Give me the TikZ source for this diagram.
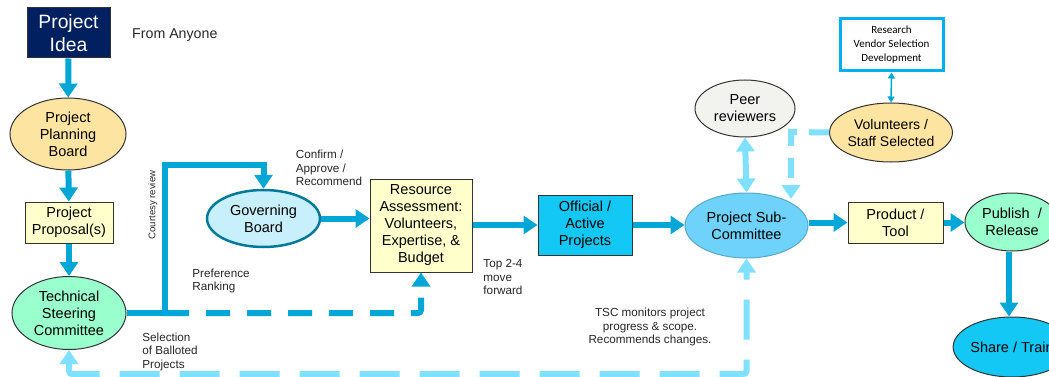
\documentclass[tikz,border=0pt]{standalone}
\usepackage{fontspec}
\setmainfont{Liberation Sans}
\newfontfamily\smallfont{Carlito}
\usetikzlibrary{shapes.geometric,arrows.meta,calc}
\definecolor{flowblue}{RGB}{0,166,214}
\definecolor{lightflow}{RGB}{128,224,255}
\definecolor{navy}{RGB}{0,32,96}
\definecolor{paleyellow}{RGB}{255,255,204}
\definecolor{paleorange}{RGB}{253,228,160}
\definecolor{mint}{RGB}{153,255,204}
\definecolor{govfill}{RGB}{200,240,252}
\definecolor{govborder}{RGB}{0,122,153}
\definecolor{brightcyan}{RGB}{20,200,245}
\definecolor{subfill}{RGB}{110,210,250}
\definecolor{peerfill}{RGB}{242,242,238}
\definecolor{resborder}{RGB}{0,176,240}
\tikzset{
  box/.style={draw=black!80,line width=1pt,align=center,inner sep=0pt,font=\fontsize{14.5}{17}\selectfont},
  oval/.style={ellipse,draw=black!80,line width=1pt,align=center,inner sep=0pt,font=\fontsize{14.5}{17}\selectfont},
  flow/.style={draw=flowblue,line width=6pt,-{Triangle[width=18pt,length=14pt]}},
  flowline/.style={draw=flowblue,line width=6pt},
  flowdash/.style={draw=flowblue,line width=6pt,dash pattern=on 24pt off 17pt,-{Triangle[width=18pt,length=14pt]}},
  lightdash/.style={draw=lightflow,line width=6pt,dash pattern=on 40pt off 20pt,{Triangle[width=18pt,length=14pt]}-{Triangle[width=18pt,length=14pt]}},
  lightdashshort/.style={draw=lightflow,line width=6pt,dash pattern=on 20pt off 12pt,-{Triangle[width=18pt,length=14pt]}},
  lightboth/.style={draw=lightflow,line width=6pt,{Triangle[width=18pt,length=14pt]}-{Triangle[width=18pt,length=14pt]}},
  thinboth/.style={draw=flowblue,line width=1.5pt,{Triangle[width=7pt,length=6pt]}-{Triangle[width=7pt,length=6pt]}},
  note/.style={align=left,inner sep=0pt,text=black!85,font=\fontsize{11.7}{13.5}\selectfont},
}
\begin{document}
\begin{tikzpicture}[x=1pt,y=-1pt]
\useasboundingbox (0,0) rectangle (1049,377);
\clip (0,0) rectangle (1049,377);
% nodes
\node[box,fill=navy,text=white,minimum width=83pt,minimum height=50pt,font=\fontsize{19.3}{23}\selectfont] (idea) at (68.5,33) {Project\\Idea};
\node[note,anchor=west,font=\fontsize{14.2}{16}\selectfont] (anyone) at (132,35) {From Anyone};
\node[oval,fill=paleorange,minimum width=116pt,minimum height=72pt] (ppb) at (68,134) {Project\\Planning\\Board};
\node[box,fill=paleyellow,minimum width=88pt,minimum height=41pt] (prop) at (69,222.5) {Project\\Proposal(s)};
\node[oval,fill=mint,minimum width=114pt,minimum height=73pt] (tsc) at (69,313) {Technical\\Steering\\Committee};
\node[oval,fill=govfill,draw=govborder,line width=2.5pt,minimum width=113pt,minimum height=57pt] (gov) at (263.5,218.5) {Governing\\Board};
\node[box,fill=paleyellow,minimum width=102pt,minimum height=93pt] (res) at (421,225.5) {Resource\\Assessment:\\Volunteers,\\Expertise, \&\\Budget};
\node[box,fill=brightcyan,minimum width=94pt,minimum height=60pt] (off) at (585,225) {Official /\\Active\\Projects};
\node[oval,fill=subfill,draw=subfill!80!black,minimum width=123pt,minimum height=65pt] (sub) at (746.5,225.5) {Project Sub-\\Committee};
\node[box,fill=paleyellow,minimum width=95pt,minimum height=41pt] (prod) at (895.5,222.5) {Product /\\Tool};
\node[oval,fill=mint,minimum width=94pt,minimum height=58pt] (pub) at (1012,222) {Publish~~/\\Release};
\node[oval,fill=brightcyan,minimum width=98pt,minimum height=60pt] (share) at (1012,347) {Share / Train};
\node[oval,fill=peerfill,minimum width=100pt,minimum height=57pt] (peer) at (745,108.5) {Peer\\reviewers};
\node[oval,fill=paleorange,minimum width=92pt,minimum height=59pt,font=\fontsize{14}{17}\selectfont] (vol) at (891,132.5) {Volunteers /\\Staff Selected};
\node[draw=resborder,line width=3pt,fill=white,minimum width=103pt,minimum height=52pt,align=center,inner sep=0pt,font=\smallfont\fontsize{11}{14}\selectfont] (rsch) at (891.5,45) {Research\\Vendor Selection\\Development};
% labels
\node[note] (confirm) at (329,168) {Confirm /\\Approve /\\Recommend};
\node[note] (pref) at (221,281) {Preference\\Ranking};
\node[note] (sel) at (170,351.5) {Selection\\of Balloted\\Projects};
\node[note] (top) at (503,277) {Top 2-4\\move\\forward};
\node[note,align=center] (tscmon) at (650,327) {TSC monitors project\\progress \& scope.\\Recommends changes.};
\node[note,rotate=90,font=\fontsize{9.6}{11}\selectfont] (court) at (153,205) {Courtesy review};
% coordinates
\coordinate (j1) at (165,313);
\coordinate (j2) at (165,165);
\coordinate (j3) at (j2 -| gov.north);
\coordinate (j4) at (res.south |- j1);
\coordinate (b1) at (69,374);
\coordinate (b2) at (746.5,374);
\coordinate (k1) at (791,132);
\coordinate (k2) at (791,199);
% connectors
\draw[flow] (idea) -- (ppb);
\draw[flow] (ppb) -- (prop);
\draw[flow] (prop) -- (tsc);
\draw[flowline] (tsc.east) -- (j1);
\draw[flow] (j1) -- (j2) -- (j3) -- (gov.north);
\draw[flowdash,rounded corners=3pt] (j1) -- (j4) -- (res.south);
\draw[flow] (gov.east) -- (res.west |- gov.east);
\draw[flow] (res.east |- off.west) -- (off.west);
\draw[flow] (off.east) -- (sub.west |- off.east);
\draw[flow] (sub.east |- prod.west) -- (prod.west);
\draw[flow] (prod.east) -- (pub.west |- prod.east);
\draw[flow] (pub.south -| 1009,0) -- (share.north -| 1009,0);
\draw[lightboth] (peer.south) -- (sub.north);
\draw[lightdashshort] (vol.west) -- (k1) -- (k2);
\draw[lightdash,rounded corners=3pt] (tsc.south) -- (b1) -- (b2) -- (sub.south);
\draw[thinboth] (rsch.south) -- (vol.north);
\end{tikzpicture}
\end{document}
